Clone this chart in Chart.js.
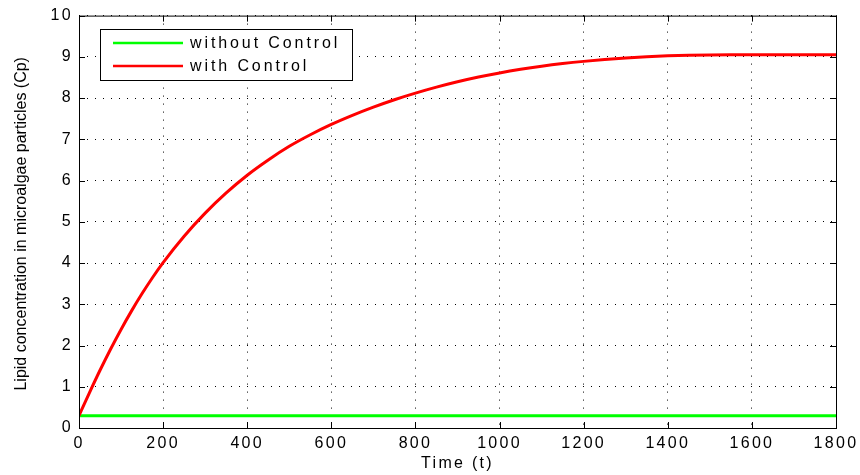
<!DOCTYPE html>
<html>
<head>
<meta charset="utf-8">
<script src="https://cdn.jsdelivr.net/npm/chart.js@4/dist/chart.umd.min.js"></script>
<style>
  body { margin: 0; background: #fff; }
  canvas { display: block; }
</style>
</head>
<body>
<canvas id="cp" width="860" height="475"></canvas>
<script>
// values
const timeRed = [0, 25, 50, 75, 100, 125, 150, 175, 200, 250, 300, 350, 400, 450, 500, 550, 600, 650, 700, 750, 800, 850, 900, 950, 1000, 1050, 1100, 1150, 1200, 1250, 1300, 1350, 1400, 1450, 1500, 1550, 1600, 1700, 1800];
const withControl = [0.3, 0.86, 1.40, 1.91, 2.39, 2.84, 3.26, 3.65, 4.01, 4.65, 5.21, 5.70, 6.13, 6.50, 6.83, 7.11, 7.36, 7.58, 7.78, 7.96, 8.12, 8.265, 8.395, 8.51, 8.61, 8.697, 8.772, 8.836, 8.89, 8.935, 8.972, 9.002, 9.024, 9.039, 9.047, 9.05, 9.05, 9.05, 9.05];
const timeGreen = [0, 1800];
const withoutControl = [0.3, 0.3];
const xTicks = [0, 200, 400, 600, 800, 1000, 1200, 1400, 1600, 1800];
const yTicks = [0, 1, 2, 3, 4, 5, 6, 7, 8, 9, 10];
const yTitle = 'Lipid concentration in microalgae particles (Cp)';

const font = "'Liberation Sans', Arial, sans-serif";
const spacing = '2.3px';

const matlabFrame = {
  id: 'matlabFrame',
  beforeDraw(chart) {
    chart.ctx.letterSpacing = spacing;
  },
  afterDraw(chart) {
    const ctx = chart.ctx;
    const a = chart.chartArea;
    const xs = chart.scales.x, ys = chart.scales.y;
    ctx.save();
    ctx.strokeStyle = '#000';
    ctx.lineWidth = 1;
    ctx.strokeRect(a.left + 0.5, a.top + 0.5, a.right - a.left, a.bottom - a.top);
    ctx.beginPath();
    xTicks.forEach(v => {
      const px = Math.round(xs.getPixelForValue(v)) + 0.5;
      ctx.moveTo(px, a.bottom); ctx.lineTo(px, a.bottom - 6);
      ctx.moveTo(px, a.top); ctx.lineTo(px, a.top + 6);
    });
    yTicks.forEach(v => {
      const py = Math.round(ys.getPixelForValue(v)) + 0.5;
      ctx.moveTo(a.left, py); ctx.lineTo(a.left + 6, py);
      ctx.moveTo(a.right, py); ctx.lineTo(a.right - 6, py);
    });
    ctx.stroke();

    // y title, no extra spacing
    ctx.letterSpacing = '0px';
    ctx.fillStyle = '#000';
    ctx.font = '16px ' + font;
    ctx.textAlign = 'center';
    ctx.textBaseline = 'middle';
    ctx.translate(22, (a.top + a.bottom) / 2 + 2);
    ctx.rotate(-Math.PI / 2);
    ctx.fillText(yTitle, 0, 0);
    ctx.setTransform(1, 0, 0, 1, 0, 0);

    // legend
    const lx = 100, ly = 29, lw = 252, lh = 51;
    ctx.fillStyle = '#fff';
    ctx.fillRect(lx, ly, lw, lh);
    ctx.strokeRect(lx + 0.5, ly + 0.5, lw, lh);
    ctx.letterSpacing = '2.9px';
    ctx.font = '16px ' + font;
    ctx.textAlign = 'left';
    [1, 0].forEach((di, i) => {
      const ds = chart.data.datasets[di];
      const y = ly + 14 + i * 23;
      ctx.strokeStyle = ds.borderColor;
      ctx.lineWidth = 2.5;
      ctx.beginPath();
      ctx.moveTo(lx + 13, y); ctx.lineTo(lx + 83, y);
      ctx.stroke();
      ctx.fillStyle = '#000';
      ctx.fillText(ds.label, lx + 90, y + 1);
    });
    ctx.restore();
  }
};

new Chart(document.getElementById('cp'), {
  type: 'line',
  data: {
    datasets: [
      {
        label: 'with Control',
        data: timeRed.map((t, i) => ({ x: t, y: withControl[i] })),
        borderColor: '#ff0000',
        borderWidth: 3,
        pointRadius: 0,
        cubicInterpolationMode: 'monotone'
      },
      {
        label: 'without Control',
        data: timeGreen.map((t, i) => ({ x: t, y: withoutControl[i] })),
        borderColor: '#00ff00',
        borderWidth: 3,
        pointRadius: 0
      }
    ]
  },
  options: {
    responsive: false,
    animation: false,
    layout: { padding: { top: 14, right: 24, left: 0, bottom: 0 } },
    plugins: { legend: { display: false }, tooltip: { enabled: false } },
    scales: {
      x: {
        type: 'linear',
        min: 0, max: 1800,
        afterFit: s => { s.height = 47; },
        afterBuildTicks: s => { s.ticks = xTicks.map(v => ({ value: v })); },
        grid: { color: '#000', lineWidth: 1, drawTicks: false },
        border: { display: false, dash: [1, 7] },
        ticks: { color: '#000', padding: 6, maxRotation: 0, callback: v => String(v), font: { family: font, size: 16 } },
        title: { display: true, text: 'Time (t)', color: '#000', padding: { top: 0, bottom: 2 }, font: { family: font, size: 16 } }
      },
      y: {
        min: 0, max: 10,
        afterFit: s => { s.width = 79; },
        afterBuildTicks: s => { s.ticks = yTicks.map(v => ({ value: v })); },
        grid: { color: '#000', lineWidth: 1, drawTicks: false },
        border: { display: false, dash: [1, 7] },
        ticks: { color: '#000', padding: 6, callback: v => String(v), font: { family: font, size: 16 } }
      }
    }
  },
  plugins: [matlabFrame]
});
</script>
</body>
</html>
